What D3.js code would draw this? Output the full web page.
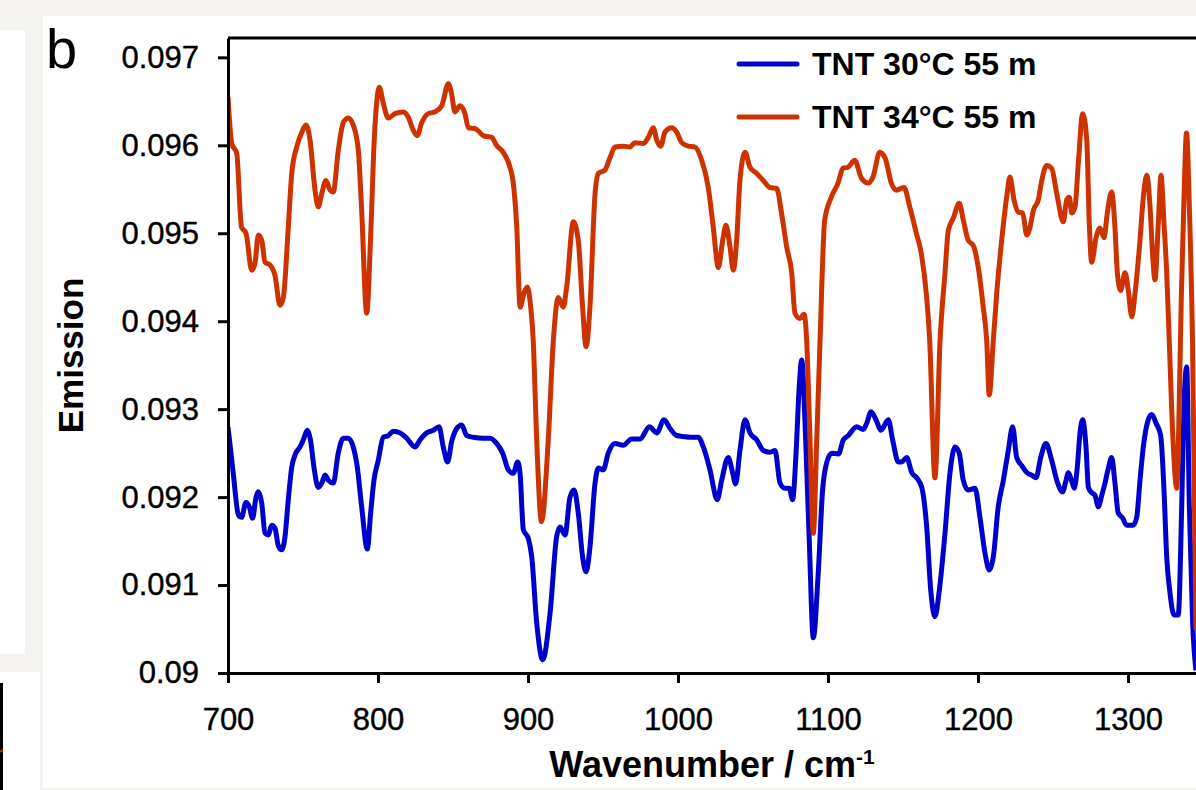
<!DOCTYPE html>
<html>
<head>
<meta charset="utf-8">
<script src="https://cdnjs.cloudflare.com/ajax/libs/d3/7.8.5/d3.min.js"></script>
<style>
    body { margin: 0; background: #f4f3ef; }
    svg { display: block; font-family: "Liberation Sans", Arial, sans-serif; }
</style>
</head>
<body>
<div id="chart"></div>
<script>
// [wavenumber, emission]
const tnt30 = [
    [700, 0.0928], [703.5, 0.09227], [706.9, 0.0918], [709, 0.09177], [712, 0.09194],
    [714.2, 0.09189], [716.4, 0.09176], [718.7, 0.092], [720.2, 0.09206], [722.5, 0.09193],
    [724.7, 0.09159], [726.9, 0.09157], [729.1, 0.09168], [731.3, 0.09165], [733.5, 0.09145],
    [735.8, 0.0914], [738, 0.09155], [740.2, 0.09197], [742.5, 0.09234], [744.7, 0.09248],
    [748, 0.09257], [750.2, 0.09265], [752.9, 0.09276], [755, 0.09265], [757.3, 0.09234],
    [760.2, 0.09211], [762.5, 0.09216], [764.7, 0.09225], [766.9, 0.09219], [770.2, 0.09216],
    [773.5, 0.0925], [776.9, 0.09267], [780.2, 0.09267], [783.5, 0.09257], [786.2, 0.09234],
    [789.1, 0.09189], [792.9, 0.09141], [795.1, 0.09182], [797.3, 0.09219], [800.2, 0.09242],
    [803.5, 0.09268], [806.9, 0.0927], [810.2, 0.09275], [814.7, 0.09273], [819.1, 0.09267],
    [824.7, 0.09257], [828, 0.09265], [832.5, 0.09273], [836.9, 0.09276], [840.7, 0.0928],
    [843.5, 0.09257], [846.4, 0.0924], [849.1, 0.09263], [852.5, 0.09278], [855.8, 0.09282],
    [859.1, 0.0927], [863.5, 0.09268], [870.2, 0.09267], [874.7, 0.09267], [879.1, 0.09261],
    [883.1, 0.0925], [886.9, 0.09231], [890.2, 0.09227], [893.1, 0.0924], [894.7, 0.09227],
    [896.9, 0.09163], [900.2, 0.09153], [902.5, 0.09132], [905.8, 0.09057], [909.8, 0.09015],
    [914.7, 0.09068], [919.1, 0.09155], [921.3, 0.09166], [924.7, 0.09157], [928, 0.092],
    [930.7, 0.09208], [933.5, 0.09182], [936.4, 0.09132], [938.7, 0.09115], [941.3, 0.09143],
    [944.7, 0.09216], [946.9, 0.09233], [950.2, 0.09231], [953.5, 0.0925], [958, 0.09261],
    [963.5, 0.09259], [969.1, 0.09266], [974.7, 0.09266], [980.9, 0.0928], [985.8, 0.09273],
    [990.7, 0.09288], [994.7, 0.09278], [999.1, 0.0927], [1003.5, 0.09269], [1008, 0.09268],
    [1013.5, 0.09268], [1016.9, 0.09257], [1021.3, 0.09231], [1026.2, 0.09197], [1029.1, 0.09219],
    [1033.5, 0.09245], [1036.4, 0.09228], [1038.4, 0.09215], [1041.3, 0.09253], [1044.7, 0.09288],
    [1048, 0.09273], [1052.5, 0.09265], [1056.9, 0.09253], [1061.3, 0.09251], [1064.7, 0.09253],
    [1068, 0.09216], [1071.3, 0.0921], [1074.2, 0.0921], [1076.4, 0.09197], [1078.7, 0.0925],
    [1080.7, 0.09322], [1082.5, 0.09356], [1084.7, 0.09284], [1087.5, 0.09151], [1090.2, 0.0904],
    [1093.5, 0.09114], [1096.4, 0.09208], [1099.1, 0.09239], [1102.5, 0.0925], [1107, 0.09249],
    [1110.2, 0.09265], [1113.5, 0.0927], [1119.1, 0.0928], [1123.5, 0.09277], [1125.8, 0.09284],
    [1128.7, 0.09297], [1132, 0.09288], [1135.3, 0.09276], [1140.2, 0.09288], [1143.1, 0.09265],
    [1146.9, 0.0924], [1149, 0.0924], [1152.5, 0.09245], [1155.8, 0.09228], [1159.1, 0.09222],
    [1162.5, 0.09211], [1165.8, 0.09166], [1168.5, 0.09094], [1171.3, 0.09064], [1174.2, 0.09094],
    [1178, 0.09159], [1181.3, 0.09227], [1184.7, 0.09257], [1187.5, 0.0925], [1190.2, 0.09219],
    [1193.5, 0.09208], [1198, 0.0921], [1201.3, 0.09177], [1204.7, 0.09136], [1207.5, 0.09117],
    [1210.2, 0.09132], [1213.5, 0.09189], [1216.9, 0.09219], [1220.2, 0.09253], [1223.1, 0.0928],
    [1225.8, 0.09245], [1229.1, 0.09236], [1232.5, 0.09228], [1235.8, 0.09225], [1238.7, 0.09222],
    [1241.8, 0.09245], [1245.3, 0.09261], [1249.1, 0.09242], [1252.9, 0.09217], [1256.4, 0.09206],
    [1258.7, 0.09219], [1260.2, 0.09228], [1262.3, 0.09219], [1264.2, 0.0921], [1266.2, 0.09234],
    [1268, 0.09273], [1269.8, 0.09288], [1272, 0.09257], [1273.6, 0.09211], [1275.8, 0.09205],
    [1278, 0.09202], [1280.2, 0.09189], [1282.5, 0.09202], [1284.7, 0.09216], [1286.9, 0.09233],
    [1289.1, 0.09245], [1291.3, 0.09216], [1293.5, 0.09182], [1296.5, 0.09176], [1299.1, 0.09168],
    [1303.5, 0.09168], [1305.8, 0.09177], [1308, 0.09219], [1310.2, 0.09257], [1313.5, 0.09288],
    [1315.8, 0.09294], [1318.7, 0.09284], [1321.8, 0.0927], [1324, 0.09208], [1325.8, 0.09132],
    [1328, 0.09091], [1330.7, 0.09066], [1333.5, 0.09066], [1335.8, 0.09189], [1337.3, 0.09302],
    [1339.1, 0.09348], [1340.9, 0.09189], [1343.1, 0.09057], [1345.3, 0.09003],
];

const tnt34 = [
    [700, 0.09655], [702.5, 0.09602], [705.8, 0.09591], [709, 0.09507], [712, 0.095],
    [715.8, 0.09458], [718, 0.09466], [720.2, 0.09498], [722.5, 0.09492], [724.7, 0.09467],
    [728, 0.09464], [731.3, 0.09452], [734.7, 0.09418], [736.9, 0.09427], [740.2, 0.09507],
    [742.5, 0.09568], [745.8, 0.09598], [749, 0.09614], [752, 0.09623], [754.7, 0.09606],
    [758, 0.09549], [760.2, 0.0953], [762.5, 0.09545], [765.3, 0.0956], [768, 0.09549],
    [770.2, 0.09547], [773.5, 0.09594], [776.9, 0.09626], [780.2, 0.09631], [783.5, 0.09623],
    [786.9, 0.09594], [789, 0.0953], [792.5, 0.09409], [795, 0.09492], [797.5, 0.09606],
    [800.9, 0.09666], [803.5, 0.09648], [806.9, 0.09631], [811.3, 0.09636], [816.9, 0.09638],
    [820.2, 0.09632], [823.5, 0.09617], [826.2, 0.09611], [829, 0.09625], [833.5, 0.09636],
    [838, 0.09638], [842.5, 0.09645], [846.9, 0.0967], [849, 0.09659], [851.3, 0.09638],
    [854.7, 0.09645], [858, 0.09636], [860.2, 0.0962], [864.7, 0.09619], [870.2, 0.09611],
    [875.8, 0.09609], [879, 0.096], [883.5, 0.09592], [888, 0.09575], [890.2, 0.09557],
    [892.5, 0.09507], [894.7, 0.09416], [897.3, 0.09432], [899.5, 0.09439], [901.8, 0.09416],
    [903.5, 0.09378], [905.8, 0.09265], [909, 0.09172], [913.5, 0.09265], [916.9, 0.09378],
    [920.2, 0.09427], [923.5, 0.09416], [925.8, 0.09439], [930.2, 0.09513], [933.5, 0.09492],
    [936.4, 0.09416], [938.7, 0.09371], [941.3, 0.09416], [944.7, 0.09545], [946.9, 0.09568],
    [951.3, 0.09572], [954.7, 0.09586], [958, 0.09598], [963.5, 0.09599], [968, 0.09598],
    [971.3, 0.09603], [976.9, 0.09602], [980.2, 0.09609], [983.5, 0.0962], [985.8, 0.09606],
    [988.5, 0.09599], [991.3, 0.09615], [995.8, 0.0962], [999.1, 0.09615], [1002.5, 0.09603],
    [1006.9, 0.09599], [1011.3, 0.09598], [1015.8, 0.09583], [1020.2, 0.09552], [1023.5, 0.09507],
    [1026.9, 0.09461], [1029.8, 0.09492], [1032, 0.09509], [1034.7, 0.09484], [1036.9, 0.09458],
    [1039.1, 0.09492], [1041.3, 0.0956], [1044.7, 0.09592], [1048, 0.09575], [1052.5, 0.09568],
    [1056.9, 0.0956], [1061.3, 0.09552], [1065.8, 0.09551], [1069, 0.09523], [1072.5, 0.09484],
    [1075.8, 0.09455], [1078, 0.09409], [1081.3, 0.09403], [1084, 0.09408], [1085.8, 0.09378],
    [1088, 0.09265], [1090.2, 0.09159], [1092.5, 0.09265], [1094.7, 0.09378], [1097.8, 0.09515],
    [1102.2, 0.09541], [1106.7, 0.09557], [1110, 0.09574], [1113.3, 0.09575], [1117.8, 0.09583],
    [1122.2, 0.09563], [1126.7, 0.09557], [1130, 0.09564], [1134.5, 0.09592], [1138.2, 0.09585],
    [1142.2, 0.09557], [1145.5, 0.09549], [1150.7, 0.09552], [1154.5, 0.0953], [1158.9, 0.095],
    [1162.2, 0.09477], [1165.5, 0.09432], [1167.8, 0.09378], [1171.3, 0.09222], [1174.7, 0.09378],
    [1178, 0.09455], [1180.2, 0.09503], [1183.5, 0.09517], [1187.5, 0.09534], [1190.2, 0.09515],
    [1193.5, 0.09492], [1196.9, 0.09486], [1200.2, 0.09461], [1203.5, 0.09416], [1205.8, 0.09378],
    [1207.5, 0.09316], [1210.2, 0.09378], [1212.5, 0.09432], [1215.8, 0.09492], [1219.1, 0.09541],
    [1221.3, 0.09564], [1224, 0.09538], [1226.9, 0.09524], [1229.8, 0.09523], [1232.5, 0.09498],
    [1234.7, 0.09507], [1236.9, 0.09526], [1240.2, 0.09538], [1242.5, 0.0956], [1245.8, 0.09577],
    [1249.1, 0.09574], [1252.5, 0.09545], [1256.9, 0.09513], [1259.1, 0.09538], [1260.9, 0.09541],
    [1262.5, 0.09523], [1264.7, 0.0953], [1266.9, 0.0958], [1269.8, 0.09636], [1272.5, 0.09606],
    [1274.2, 0.09511], [1275.8, 0.09467], [1278.7, 0.09495], [1281.3, 0.09506], [1284, 0.09495],
    [1286.2, 0.09523], [1289.1, 0.09547], [1291.3, 0.09507], [1292.9, 0.09455], [1295.1, 0.09435],
    [1298, 0.09455], [1300.2, 0.09435], [1302.5, 0.09405], [1304.7, 0.09432], [1308, 0.09492],
    [1310.2, 0.09541], [1312.5, 0.09566], [1314.7, 0.0953], [1316.5, 0.09473], [1318, 0.09447],
    [1320.2, 0.09511], [1322, 0.09566], [1324, 0.09511], [1325.8, 0.09455], [1327.5, 0.09378],
    [1330, 0.09265], [1332.5, 0.0921], [1334.2, 0.0931], [1335.5, 0.09424], [1337.3, 0.09538],
    [1339, 0.09614], [1340.9, 0.0953], [1343, 0.09378], [1345.3, 0.09049],
];

const seriesNames = ["TNT 30°C 55 m", "TNT 34°C 55 m"];
const seriesColors = ["#0000cc", "#cc3300"];
const xTicks = [700, 800, 900, 1000, 1100, 1200, 1300];
const yTicks = [0.09, 0.091, 0.092, 0.093, 0.094, 0.095, 0.096, 0.097];

const width = 1196,
    height = 790,
    margin = { top: 38, right: 0.5, bottom: 117, left: 228 };

const svg = d3
    .select("#chart")
    .append("svg")
    .attr("width", width)
    .attr("height", height);

// page panels behind the chart
svg.append("rect").attr("width", width).attr("height", height).attr("fill", "#f4f3ef");
svg.append("rect").attr("x", 43).attr("y", 16).attr("width", width - 43).attr("height", 772).attr("fill", "#fff");
svg.append("rect").attr("x", 0).attr("y", 30).attr("width", 25).attr("height", 624).attr("fill", "#fff");
svg.append("rect").attr("x", 0).attr("y", 672).attr("width", 40).attr("height", 118).attr("fill", "#fff");
svg.append("line").attr("x1", 1.5).attr("x2", 1.5).attr("y1", 683).attr("y2", 790)
    .attr("stroke", "#000").attr("stroke-width", 3);
svg.append("line").attr("x1", 0).attr("x2", 3).attr("y1", 752).attr("y2", 750)
    .attr("stroke", "#cc3300").attr("stroke-width", 2);

var x = d3.scaleLinear().domain([700, 1345]).range([margin.left, width - margin.right]);
var y = d3.scaleLinear().domain([0.09, 0.09722]).range([height - margin.bottom, margin.top]);

svg.append("clipPath")
    .attr("id", "clip")
    .append("rect")
    .attr("x", margin.left)
    .attr("y", 0)
    .attr("width", width - margin.left)
    .attr("height", height - margin.bottom + 2);

var line = d3
    .line()
    .x((d) => x(d[0]))
    .y((d) => y(d[1]))
    .curve(d3.curveMonotoneX);

svg.append("g")
    .attr("clip-path", "url(#clip)")
    .selectAll("path")
    .data([tnt30, tnt34])
    .enter()
    .append("path")
    .attr("d", line)
    .attr("fill", "none")
    .attr("stroke", (d, i) => seriesColors[i])
    .attr("stroke-width", 5)
    .attr("stroke-linejoin", "round");

// top frame line
svg.append("line")
    .attr("x1", margin.left)
    .attr("x2", width)
    .attr("y1", y.range()[1])
    .attr("y2", y.range()[1])
    .attr("stroke", "#000")
    .attr("stroke-width", 3);

var xAxis = svg
    .append("g")
    .attr("transform", "translate(0," + (height - margin.bottom) + ")")
    .call(
        d3.axisBottom(x)
            .tickValues(xTicks)
            .tickFormat(d3.format("d"))
            .tickSize(10)
            .tickSizeOuter(0)
            .tickPadding(25)
    );

var yAxis = svg
    .append("g")
    .attr("transform", "translate(" + margin.left + ",0)")
    .call(
        d3.axisLeft(y)
            .tickValues(yTicks)
            .tickFormat((d) => String(+d.toFixed(3)))
            .tickSize(10)
            .tickSizeOuter(0)
            .tickPadding(19)
    );

[xAxis, yAxis].forEach((g) => {
    g.selectAll("path, line").attr("stroke", "#000").attr("stroke-width", 3);
    g.selectAll("text")
        .attr("fill", "#000")
        .attr("stroke", "#000")
        .attr("stroke-width", 0.4)
        .style("font-family", "'Liberation Sans', Arial, sans-serif")
        .style("font-size", "31px");
});

// axis titles
var xTitle = svg
    .append("text")
    .attr("x", (margin.left + width) / 2)
    .attr("y", 777)
    .attr("text-anchor", "middle")
    .style("font-size", "36px")
    .style("font-weight", "bold")
    .text("Wavenumber / cm");
xTitle.append("tspan").attr("dy", -13).style("font-size", "21px").text("-1");

svg.append("text")
    .attr("transform", "translate(83," + (y.range()[0] + y.range()[1]) / 2 + ") rotate(-90)")
    .attr("text-anchor", "middle")
    .style("font-size", "35px")
    .style("font-weight", "bold")
    .text("Emission");

// panel letter
svg.append("text").attr("x", 46).attr("y", 68).style("font-size", "56px").text("b");

// legend
var legend = svg
    .append("g")
    .selectAll("g")
    .data(seriesNames)
    .enter()
    .append("g")
    .attr("transform", (d, i) => "translate(739," + (64 + i * 53) + ")");

legend.append("line")
    .attr("x1", 0)
    .attr("x2", 58)
    .attr("stroke", (d, i) => seriesColors[i])
    .attr("stroke-width", 5)
    .attr("stroke-linecap", "round");

legend.append("text")
    .attr("x", 73)
    .attr("y", 11)
    .style("font-size", "32px")
    .style("font-weight", "bold")
    .text((d) => d);
</script>
</body>
</html>
